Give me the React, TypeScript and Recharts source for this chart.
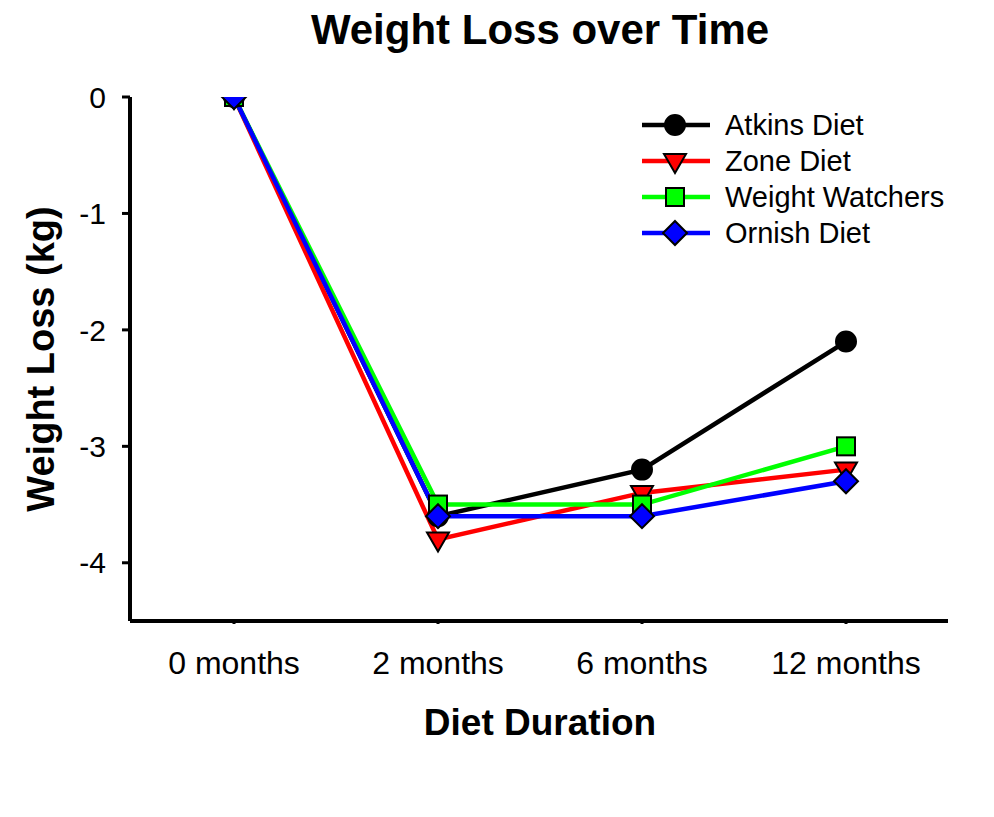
import React from 'react';
import { LineChart, Line, XAxis, YAxis, Legend, Customized } from 'recharts';

const months = ['0 months', '2 months', '6 months', '12 months'];
const atkins = [0, -3.6, -3.2, -2.1];
const zone = [0, -3.8, -3.4, -3.2];
const weightWatchers = [0, -3.5, -3.5, -3.0];
const ornish = [0, -3.6, -3.6, -3.3];
const yTicks = [0, -1, -2, -3, -4];

const data = months.map((m, i) => ({
  month: m,
  atkins: atkins[i],
  zone: zone[i],
  ww: weightWatchers[i],
  ornish: ornish[i],
}));

const FONT = 'Liberation Sans, Arial, sans-serif';

type Shape = 'circle' | 'triangle' | 'square' | 'diamond';

const Marker = ({ cx, cy, shape, fill }: { cx: number; cy: number; shape: Shape; fill: string }) => {
  if (shape === 'circle') return <circle cx={cx} cy={cy} r={10} fill={fill} stroke="#000" strokeWidth={2} />;
  if (shape === 'triangle')
    return (
      <polygon
        points={`${cx - 11},${cy - 7} ${cx + 11},${cy - 7} ${cx},${cy + 12}`}
        fill={fill}
        stroke="#000"
        strokeWidth={2}
        strokeLinejoin="miter"
      />
    );
  if (shape === 'square')
    return <rect x={cx - 9} y={cy - 9} width={18} height={18} fill={fill} stroke="#000" strokeWidth={2} />;
  return (
    <polygon
      points={`${cx},${cy - 12} ${cx + 12},${cy} ${cx},${cy + 12} ${cx - 12},${cy}`}
      fill={fill}
      stroke="#000"
      strokeWidth={2}
    />
  );
};

const seriesDefs: { key: string; name: string; color: string; shape: Shape }[] = [
  { key: 'atkins', name: 'Atkins Diet', color: '#000000', shape: 'circle' },
  { key: 'zone', name: 'Zone Diet', color: '#ff0000', shape: 'triangle' },
  { key: 'ww', name: 'Weight Watchers', color: '#00ff00', shape: 'square' },
  { key: 'ornish', name: 'Ornish Diet', color: '#0000ff', shape: 'diamond' },
];

const makeDot = (shape: Shape, fill: string) => (props: any) => {
  const { cx, cy, index } = props;
  if (cx == null || cy == null) return <g key={index} />;
  return (
    <g key={`${shape}-${index}`}>
      <Marker cx={cx} cy={cy} shape={shape} fill={fill} />
    </g>
  );
};

const LegendContent = () => (
  <div style={{ fontFamily: FONT, fontSize: 29, color: '#000' }}>
    {seriesDefs.map((s) => (
      <div key={s.key} style={{ display: 'flex', alignItems: 'center', height: 36 }}>
        <svg width={85} height={36} style={{ display: 'block' }}>
          <line x1={2} y1={18} x2={70} y2={18} stroke={s.color} strokeWidth={4.5} />
          <Marker cx={35} cy={18} shape={s.shape} fill={s.color} />
        </svg>
        <span style={{ lineHeight: '36px', whiteSpace: 'nowrap' }}>{s.name}</span>
      </div>
    ))}
  </div>
);

const Texts = () => (
  <g fontFamily={FONT} fill="#000">
    <text x={540} y={44} textAnchor="middle" fontSize={42} fontWeight="bold">
      Weight Loss over Time
    </text>
    <text x={540} y={735} textAnchor="middle" fontSize={37} fontWeight="bold">
      Diet Duration
    </text>
    <text
      x={0}
      y={0}
      transform="translate(54, 359) rotate(-90)"
      textAnchor="middle"
      fontSize={38}
      fontWeight="bold"
    >
      Weight Loss (kg)
    </text>
  </g>
);

export default function App() {
  return (
    <div style={{ position: 'absolute', left: 0, top: 0, width: 994, height: 817, background: '#fff' }}>
      <LineChart
        width={994}
        height={817}
        data={data}
        margin={{ top: 97, right: 46, bottom: 136, left: 70 }}
      >
        <XAxis
          dataKey="month"
          height={60}
          padding={{ left: 104, right: 102 }}
          axisLine={{ stroke: '#000', strokeWidth: 4 }}
          tickLine={{ stroke: '#000', strokeWidth: 3 }}
          tickSize={3}
          tickMargin={27}
          tick={{ fill: '#000', fontSize: 32, fontFamily: FONT }}
        />
        <YAxis
          width={60}
          domain={[-4.5, 0]}
          ticks={yTicks}
          allowDataOverflow
          axisLine={{ stroke: '#000', strokeWidth: 4 }}
          tickLine={{ stroke: '#000', strokeWidth: 3 }}
          tickSize={8}
          tickMargin={16}
          tick={{ fill: '#000', fontSize: 30, fontFamily: FONT }}
        />
        {seriesDefs.map((s) => (
          <Line
            key={s.key}
            type="linear"
            dataKey={s.key}
            name={s.name}
            stroke={s.color}
            strokeWidth={4.5}
            dot={makeDot(s.shape, s.color)}
            activeDot={false}
            isAnimationActive={false}
          />
        ))}
        <Legend
          layout="vertical"
          align="center"
          verticalAlign="middle"
          content={<LegendContent />}
          wrapperStyle={{ left: 640, top: 107, width: 330, right: 'auto', bottom: 'auto' }}
        />
        <Customized component={<Texts />} />
      </LineChart>
    </div>
  );
}
